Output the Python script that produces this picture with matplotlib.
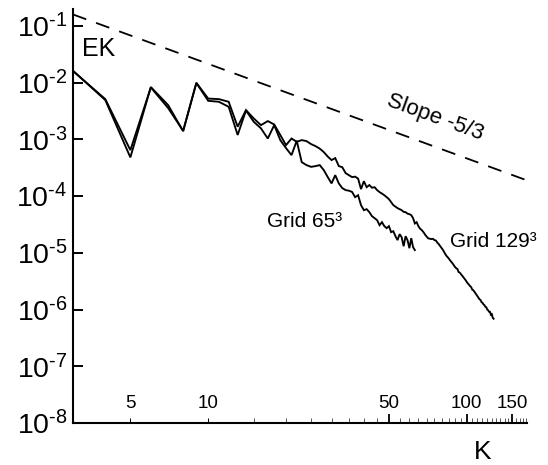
import numpy as np
import matplotlib
matplotlib.use("Agg")
import matplotlib.pyplot as plt
from matplotlib.ticker import FixedLocator, NullLocator

plt.rcParams['font.family'] = ['Liberation Sans', 'DejaVu Sans']

# Energy spectrum, 129^3 grid (K = 3 .. 127)
k129 = np.arange(3, 128)
ek129 = np.array([
    1.61e-2, 5.15e-3, 6.49e-4, 8.29e-3, 3.58e-3, 1.42e-3, 1.00e-2, 5.26e-3, 5.15e-3, 4.62e-3,
    1.68e-3, 3.30e-3, 2.35e-3, 1.79e-3, 2.11e-3, 1.84e-3, 1.20e-3, 7.95e-4, 1.04e-3, 9.10e-4,
    9.75e-4, 9.36e-4, 8.29e-4, 7.64e-4, 6.90e-4, 5.99e-4, 4.99e-4, 4.33e-4, 4.69e-4, 3.39e-4,
    3.25e-4, 2.55e-4, 2.35e-4, 2.17e-4, 2.21e-4, 2.04e-4, 1.33e-4, 1.84e-4, 1.44e-4, 1.57e-4,
    1.41e-4, 1.44e-4, 1.28e-4, 1.18e-4, 1.11e-4, 1.04e-4, 9.62e-5, 8.87e-5, 7.85e-5, 6.95e-5,
    6.54e-5, 6.15e-5, 5.90e-5, 5.67e-5, 5.29e-5, 5.23e-5, 4.92e-5, 4.82e-5, 4.63e-5, 4.10e-5,
    3.30e-5, 3.48e-5, 2.96e-5, 2.67e-5, 2.52e-5, 2.32e-5, 2.10e-5, 1.93e-5, 1.80e-5, 1.78e-5,
    1.75e-5, 1.77e-5, 1.68e-5, 1.65e-5, 1.51e-5, 1.42e-5, 1.31e-5, 1.21e-5, 1.12e-5, 1.01e-5,
    9.19e-6, 8.57e-6, 8.07e-6, 7.50e-6, 7.00e-6, 6.58e-6, 6.12e-6, 5.66e-6, 5.37e-6, 5.20e-6,
    4.60e-6, 4.48e-6, 4.21e-6, 3.96e-6, 3.73e-6, 3.51e-6, 3.30e-6, 3.07e-6, 2.89e-6, 2.75e-6,
    2.59e-6, 2.50e-6, 2.25e-6, 2.20e-6, 2.07e-6, 1.95e-6, 1.83e-6, 1.72e-6, 1.62e-6, 1.52e-6,
    1.48e-6, 1.36e-6, 1.32e-6, 1.24e-6, 1.20e-6, 1.12e-6, 1.10e-6, 1.00e-6, 9.75e-7, 9.17e-7,
    9.10e-7, 8.10e-7, 8.30e-7, 7.20e-7, 6.90e-7,
])

# Energy spectrum, 65^3 grid (K = 3 .. 63)
k65 = np.arange(3, 64)
ek65 = np.array([
    1.63e-2, 4.95e-3, 4.83e-4, 8.40e-3, 4.04e-3, 1.40e-3, 9.90e-3, 4.81e-3, 4.62e-3, 3.77e-3,
    1.20e-3, 3.25e-3, 2.05e-3, 1.57e-3, 1.04e-3, 1.79e-3, 9.75e-4, 7.04e-4, 5.30e-4, 9.50e-4,
    3.98e-4, 3.53e-4, 3.29e-4, 3.39e-4, 3.53e-4, 2.88e-4, 2.17e-4, 1.68e-4, 2.35e-4, 1.68e-4,
    1.39e-4, 1.28e-4, 1.25e-4, 1.19e-4, 9.62e-5, 1.04e-4, 6.95e-5, 5.67e-5, 5.90e-5, 5.23e-5,
    4.44e-5, 4.10e-5, 3.78e-5, 3.08e-5, 3.48e-5, 2.96e-5, 2.73e-5, 2.96e-5, 2.32e-5, 2.41e-5,
    1.97e-5, 1.68e-5, 2.14e-5, 1.89e-5, 1.31e-5, 1.97e-5, 1.68e-5, 1.21e-5, 1.82e-5, 1.26e-5,
    1.12e-5,
])

# Reference Kolmogorov line E = K^(-5/3)
slope_k = np.array([3.0, 170.0])
slope_exp = -5.0 / 3.0

x_major = [5, 10, 50, 100, 150]
x_major_labels = ['5', '10', '50', '100', '150']
x_minor = [k for k in range(15, 175, 5) if k not in (50, 100, 150)]
y_exponents = list(range(-8, 0))

W, H = 548, 465
fig = plt.figure(figsize=(W / 100, H / 100), dpi=100)
ax = fig.add_axes([73 / W, 42 / H, 454 / W, 414 / H])
ax.set_xscale('log')
ax.set_yscale('log')
ax.set_xlim(3, 171)
ax.set_ylim(1e-8, 0.2)

ax.plot(k129, ek129, color='black', lw=1.35, solid_joinstyle='miter')
ax.plot(k65, ek65, color='black', lw=1.35, solid_joinstyle='miter')
ax.plot(slope_k, slope_k ** slope_exp, color='black', lw=1.3, dashes=(7.8, 5.8))

for side in ('top', 'right'):
    ax.spines[side].set_visible(False)
for side in ('left', 'bottom'):
    ax.spines[side].set_linewidth(1.5)

# y axis: decades with superscript labels (plain hyphen as the sign)
ax.yaxis.set_major_locator(FixedLocator([10.0 ** e for e in y_exponents]))
ax.yaxis.set_minor_locator(NullLocator())
ax.set_yticklabels(['$\\mathregular{10^{\u2010%d}}$' % (-e) for e in y_exponents])
ax.tick_params(axis='y', which='major', direction='in', length=7.2, width=1.4,
               labelsize=20.5, pad=4)

# x axis: labels sit inside, above the axis line
ax.xaxis.set_major_locator(FixedLocator(x_major))
ax.xaxis.set_minor_locator(FixedLocator(x_minor))
ax.set_xticklabels(x_major_labels)
ax.xaxis.set_minor_formatter(plt.NullFormatter())
ax.tick_params(axis='x', which='major', direction='in', length=6.5, width=1.3,
               labelsize=13.5, pad=-10.8)
ax.tick_params(axis='x', which='minor', direction='in', length=3.6, width=0.7,
               color='#555555')
for lab in ax.get_xticklabels():
    lab.set_verticalalignment('baseline')
for t in ax.xaxis.get_major_ticks()[:2]:
    t.tick1line.set_markersize(3.6)
    t.tick1line.set_markeredgewidth(0.7)
    t.tick1line.set_color('#777777')

ax.set_xlabel('K', fontsize=19)
ax.xaxis.set_label_coords(0.903, -0.088)
ax.xaxis.label.set_verticalalignment('baseline')


def fpos(px, py):
    return px / W, 1 - py / H


fig.text(*fpos(81.7, 56), 'EK', fontsize=18, va='baseline', ha='left')
fig.text(*fpos(435, 117.3), 'Slope -5/3', fontsize=16, rotation=-20,
         rotation_mode='anchor', ha='center', va='center')
fig.text(*fpos(266.7, 226.7), 'Grid 65\u00b3', fontsize=15, va='baseline')
fig.text(*fpos(450, 246.7), 'Grid 129\u00b3', fontsize=15, va='baseline')

fig.savefig('out.png', dpi=100)
